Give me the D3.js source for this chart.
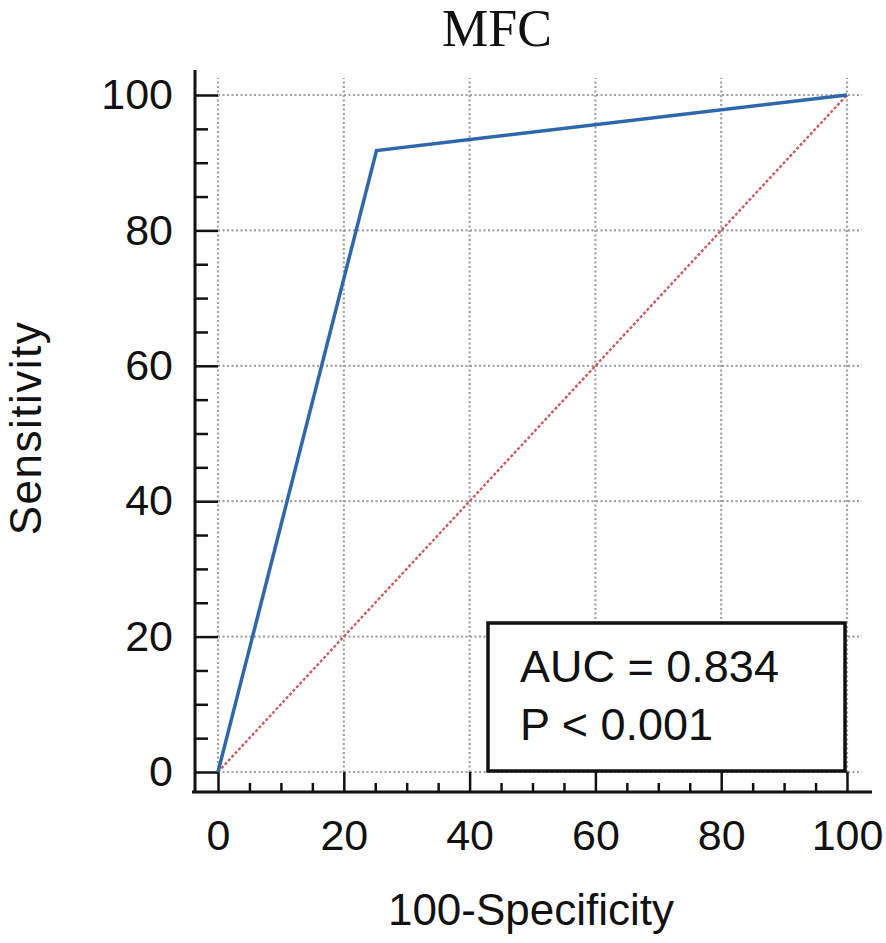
<!DOCTYPE html>
<html>
<head>
<meta charset="utf-8">
<script src="https://cdn.jsdelivr.net/npm/d3@7"></script>
<style>
  body { margin: 0; background: #fff; }
  svg text { font-family: "Liberation Sans", Arial, sans-serif; fill: #111; }
</style>
</head>
<body>
<svg id="chart" width="886" height="943"></svg>
<script>
// ROC curve points (100-Specificity, Sensitivity)
const rocX = [0, 25.2, 100];
const rocY = [0, 91.8, 100];
// chance line
const refX = [0, 100];
const refY = [0, 100];

const majorTicks = [0, 20, 40, 60, 80, 100];
const minorTicks = [5, 10, 15, 25, 30, 35, 45, 50, 55, 65, 70, 75, 85, 90, 95];

const chartTitle = 'MFC';
const xTitle = '100-Specificity';
const yTitle = 'Sensitivity';
const statLines = ['AUC = 0.834', 'P < 0.001'];

const svg = d3.select('#chart');

const axisX = 195;   // y axis line position
const axisY = 792;   // x axis line position

const x = d3.scaleLinear().domain([0, 100]).range([218, 847]);
const y = d3.scaleLinear().domain([0, 100]).range([772, 95]);

// grid
const grid = svg.append('g')
    .attr('stroke', '#a0a0a0')
    .attr('stroke-width', 2.2)
    .attr('stroke-dasharray', '2,2.5');

majorTicks.forEach(t => {
    grid.append('line')
        .attr('x1', x(t)).attr('x2', x(t))
        .attr('y1', y(0)).attr('y2', 78);
    grid.append('line')
        .attr('x1', x(0)).attr('x2', 862)
        .attr('y1', y(t)).attr('y2', y(t));
});

// axes lines
svg.append('line')
    .attr('x1', axisX).attr('x2', axisX)
    .attr('y1', 70).attr('y2', axisY + 1)
    .attr('stroke', '#111').attr('stroke-width', 3);
svg.append('line')
    .attr('x1', 192).attr('x2', 872)
    .attr('y1', axisY).attr('y2', axisY)
    .attr('stroke', '#111').attr('stroke-width', 3);

// x axis
const xMajor = svg.append('g')
    .attr('transform', `translate(0,${axisY})`)
    .call(d3.axisBottom(x).tickValues(majorTicks).tickSize(-(axisY - y(0))).tickPadding(27));
const xMinor = svg.append('g')
    .attr('transform', `translate(0,${axisY})`)
    .call(d3.axisBottom(x).tickValues(minorTicks).tickSize(-9).tickFormat(''));

// y axis
const yMajor = svg.append('g')
    .attr('transform', `translate(${axisX},0)`)
    .call(d3.axisLeft(y).tickValues(majorTicks).tickSize(-(x(0) - axisX)).tickPadding(22));
const yMinor = svg.append('g')
    .attr('transform', `translate(${axisX},0)`)
    .call(d3.axisLeft(y).tickValues(minorTicks).tickSize(-13).tickFormat(''));

[xMajor, xMinor, yMajor, yMinor].forEach(g => {
    g.select('.domain').remove();
    g.selectAll('.tick line').attr('stroke', '#111').attr('stroke-width', 2.5);
    g.selectAll('.tick text')
        .attr('font-size', 43)
        .attr('font-family', '"Liberation Sans", Arial, sans-serif')
        .attr('fill', '#111');
});

// chance line
const line = d3.line().x(d => x(d[0])).y(d => y(d[1]));

svg.append('path')
    .datum(d3.zip(refX, refY))
    .attr('d', line)
    .attr('fill', 'none')
    .attr('stroke', '#cc5c5e')
    .attr('stroke-width', 2.4)
    .attr('stroke-dasharray', '3,2');

// ROC curve
svg.append('path')
    .datum(d3.zip(rocX, rocY))
    .attr('d', line)
    .attr('fill', 'none')
    .attr('stroke', '#2f67ad')
    .attr('stroke-width', 3.5)
    .attr('stroke-linejoin', 'miter');

// stats box
svg.append('rect')
    .attr('x', 488).attr('y', 623)
    .attr('width', 357).attr('height', 148)
    .attr('fill', '#fff')
    .attr('stroke', '#111')
    .attr('stroke-width', 3.5);

statLines.forEach((s, i) => {
    svg.append('text')
        .attr('x', 520)
        .attr('y', 682 + i * 58)
        .attr('font-size', 45)
        .text(s);
});

// titles
svg.append('text')
    .attr('x', 497).attr('y', 46)
    .attr('text-anchor', 'middle')
    .style('font-family', '"Liberation Serif", "Times New Roman", serif')
    .attr('font-size', 52)
    .text(chartTitle);

svg.append('text')
    .attr('x', 531).attr('y', 925)
    .attr('text-anchor', 'middle')
    .attr('font-size', 44)
    .text(xTitle);

svg.append('text')
    .attr('transform', 'translate(41,428) rotate(-90)')
    .attr('text-anchor', 'middle')
    .attr('font-size', 44)
    .attr('letter-spacing', 1.5)
    .text(yTitle);
</script>
</body>
</html>
